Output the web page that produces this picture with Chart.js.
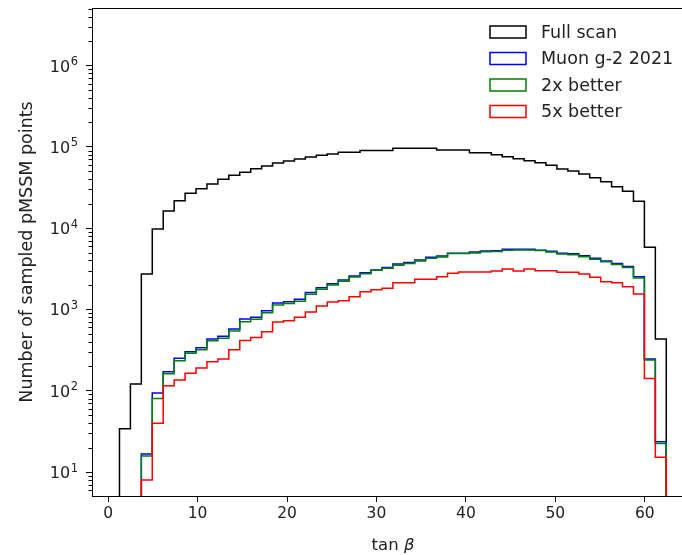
<!DOCTYPE html>
<html>
<head>
<meta charset="utf-8">
<script src="https://cdn.jsdelivr.net/npm/chart.js@4.4.1/dist/chart.umd.min.js"></script>
<style>
  html, body { margin: 0; padding: 0; overflow: hidden; background: #fff; }
  #wrap { width: 682px; height: 555px; overflow: hidden; }
</style>
</head>
<body>
<div id="wrap"><canvas id="tanbChart" width="700" height="555"></canvas></div>
<script>
// tan(beta) histogram, 50 equal-width bins
const binLo = 1.27;
const binHi = 62.4;
const nBins = 50;

const fullScan = [34, 121, 2720, 9750, 16200, 21700, 26800, 30500, 34800, 39800,
  44600, 48500, 53800, 58100, 63200, 66900, 70800, 75000, 78600, 81500,
  85500, 85800, 89800, 90200, 90000, 95900, 96200, 96000, 95800, 91400,
  91600, 91200, 84600, 84400, 80000, 75500, 71400, 67400, 63700, 59200,
  53300, 50300, 46300, 41700, 37200, 32300, 28400, 21400, 5800, 432];
const muon2021 = [0, 0, 16.6, 94, 171, 250, 302, 338, 432, 467,
  574, 762, 800, 964, 1200, 1245, 1330, 1620, 1850, 2070,
  2300, 2580, 2830, 3050, 3280, 3615, 3790, 4050, 4370, 4540,
  4900, 4900, 5080, 5230, 5270, 5480, 5480, 5480, 5330, 5190,
  4900, 4830, 4560, 4250, 3950, 3670, 3370, 2520, 245, 23.6];
const better2x = [0, 0, 15.7, 80, 162, 234, 288, 319, 412, 441,
  542, 706, 755, 910, 1130, 1180, 1260, 1540, 1770, 1990,
  2220, 2500, 2750, 3030, 3200, 3500, 3680, 3950, 4250, 4420,
  4880, 4890, 4950, 5120, 5150, 5360, 5380, 5370, 5320, 5080,
  4800, 4700, 4450, 4150, 3860, 3580, 3280, 2440, 239, 22.5];
const better5x = [0, 0, 8.0, 39.7, 115, 135, 164, 190, 227, 245,
  320, 415, 452, 530, 700, 726, 800, 929, 1100, 1233,
  1280, 1432, 1650, 1740, 1820, 2130, 2130, 2345, 2345, 2520,
  2780, 2885, 2885, 2885, 2970, 3140, 2970, 3140, 2990, 2990,
  2860, 2860, 2720, 2480, 2190, 2130, 1900, 1545, 141, 15.2];

const seriesLabels = ['Full scan', 'Muon g-2 2021', '2x better', '5x better'];
const seriesColors = ['#000000', '#0000ff', '#008000', '#ff0000'];

const xTickValues = [0, 10, 20, 30, 40, 50, 60];
const yTickValues = [1e1, 1e2, 1e3, 1e4, 1e5, 1e6];
const yTickExponents = ['1', '2', '3', '4', '5', '6'];

const binWidth = (binHi - binLo) / nBins;
const edges = Array.from({ length: nBins + 1 }, (_, i) => binLo + i * binWidth);

// step outline of a histogram; it starts and ends below the axis so the
// vertical sides run off the bottom like an unfilled step histogram
function stepOutline(counts) {
  const floor = 1;
  const first = counts.findIndex(c => c > 0);
  let last = counts.length - 1;
  while (last > 0 && counts[last] <= 0) last--;
  const pts = [{ x: edges[first], y: floor }];
  for (let i = first; i <= last; i++) {
    pts.push({ x: edges[i], y: counts[i] });
    pts.push({ x: edges[i + 1], y: counts[i] });
  }
  pts.push({ x: edges[last + 1], y: floor });
  return pts;
}

const FONT = "'DejaVu Sans', 'Liberation Sans', sans-serif";
const TEXT = '#222';

// short minor ticks at 2..9 of every decade
const minorTicks = {
  id: 'minorTicks',
  afterDraw(chart) {
    const y = chart.scales.y;
    const ctx = chart.ctx;
    ctx.save();
    ctx.strokeStyle = '#000';
    ctx.lineWidth = 1;
    for (let d = 1; d <= 1e6; d *= 10) {
      for (let m = 2; m <= 9; m++) {
        const v = m * d;
        if (v < y.min || v > y.max) continue;
        const py = Math.round(y.getPixelForValue(v)) + 0.5;
        ctx.beginPath();
        ctx.moveTo(y.right - 3.5, py);
        ctx.lineTo(y.right, py);
        ctx.stroke();
      }
    }
    ctx.restore();
  }
};

// power-of-ten labels with a raised exponent
const decadeLabels = {
  id: 'decadeLabels',
  afterDraw(chart) {
    const y = chart.scales.y;
    const ctx = chart.ctx;
    const right = y.right - 14;
    ctx.save();
    ctx.fillStyle = TEXT;
    ctx.textBaseline = 'alphabetic';
    ctx.textAlign = 'right';
    yTickValues.forEach((v, i) => {
      const py = y.getPixelForValue(v);
      ctx.font = '11.5px ' + FONT;
      const ew = ctx.measureText(yTickExponents[i]).width;
      ctx.fillText(yTickExponents[i], right, py - 0.5);
      ctx.font = '16px ' + FONT;
      ctx.fillText('10', right - ew - 0.5, py + 6);
    });
    ctx.restore();
  }
};

const frame = {
  id: 'frame',
  afterDraw(chart) {
    const { left, top, right, bottom } = chart.chartArea;
    const ctx = chart.ctx;
    ctx.save();
    ctx.strokeStyle = '#000';
    ctx.lineWidth = 1;
    ctx.strokeRect(Math.round(left) + 0.5, Math.round(top) + 0.5,
      Math.round(right - left), Math.round(bottom - top));
    ctx.restore();
  }
};

// legend inside the upper right of the plot, outlined patches
const boxLegend = {
  id: 'boxLegend',
  afterDraw(chart) {
    const ctx = chart.ctx;
    const area = chart.chartArea;
    const x0 = area.right - 204;
    const y0 = area.top + 24;
    ctx.save();
    ctx.font = '17.5px ' + FONT;
    ctx.textBaseline = 'middle';
    ctx.textAlign = 'left';
    seriesLabels.forEach((label, i) => {
      const cy = y0 + i * 26.5;
      ctx.strokeStyle = seriesColors[i];
      ctx.lineWidth = 1.5;
      ctx.strokeRect(x0, cy - 6, 36, 12);
      ctx.fillStyle = TEXT;
      ctx.fillText(label, x0 + 51, cy + 1);
    });
    ctx.restore();
  }
};

// "tan β" with the beta in italics
const xTitle = {
  id: 'xTitle',
  afterDraw(chart) {
    const ctx = chart.ctx;
    const area = chart.chartArea;
    const cx = (area.left + area.right) / 2;
    const cy = 546;
    ctx.save();
    ctx.fillStyle = TEXT;
    ctx.textBaseline = 'middle';
    const upright = '16.5px ' + FONT;
    const slanted = 'italic 16.5px ' + FONT;
    ctx.font = upright;
    const w1 = ctx.measureText('tan ').width;
    ctx.font = slanted;
    const w2 = ctx.measureText('\u03b2').width;
    const x = cx - (w1 + w2) / 2;
    ctx.font = upright;
    ctx.fillText('tan ', x, cy);
    ctx.font = slanted;
    ctx.fillText('\u03b2', x + w1, cy);
    ctx.restore();
  }
};

const series = [fullScan, muon2021, better2x, better5x];

new Chart(document.getElementById('tanbChart'), {
  type: 'line',
  data: {
    datasets: series.map((counts, i) => ({
      label: seriesLabels[i],
      data: stepOutline(counts),
      borderColor: seriesColors[i],
      borderWidth: 1.5,
      pointRadius: 0,
      fill: false,
      tension: 0,
      order: series.length - i
    }))
  },
  options: {
    responsive: false,
    animation: false,
    devicePixelRatio: 1,
    layout: { padding: { left: 0, top: 8, right: 6, bottom: 0 } },
    plugins: {
      legend: { display: false },
      tooltip: { enabled: false }
    },
    scales: {
      x: {
        type: 'linear',
        min: -1.8,
        max: 65.5,
        afterBuildTicks: s => { s.ticks = xTickValues.map(v => ({ value: v })); },
        afterFit: s => {
          s.height = 59;
          s.paddingLeft = 0;
          s.paddingRight = 0;
        },
        grid: { drawOnChartArea: false, tickLength: 6, tickColor: '#000', color: '#000' },
        border: { color: '#000', width: 1 },
        ticks: {
          color: TEXT,
          font: { family: FONT, size: 15.5 },
          padding: 3,
          maxRotation: 0,
          autoSkip: false
        }
      },
      y: {
        type: 'logarithmic',
        min: 5.07,
        max: 5.1e6,
        afterBuildTicks: s => { s.ticks = yTickValues.map(v => ({ value: v })); },
        afterFit: s => {
          s.width = 92;
          s.paddingTop = 0;
          s.paddingBottom = 0;
        },
        grid: { drawOnChartArea: false, tickLength: 6, tickColor: '#000', color: '#000' },
        border: { color: '#000', width: 1 },
        ticks: { display: false, autoSkip: false },
        title: {
          display: true,
          text: 'Number of sampled pMSSM points',
          color: TEXT,
          font: { family: FONT, size: 17.5 },
          padding: { top: 16.5, bottom: 0 }
        }
      }
    }
  },
  plugins: [minorTicks, decadeLabels, frame, boxLegend, xTitle]
});
</script>
</body>
</html>
